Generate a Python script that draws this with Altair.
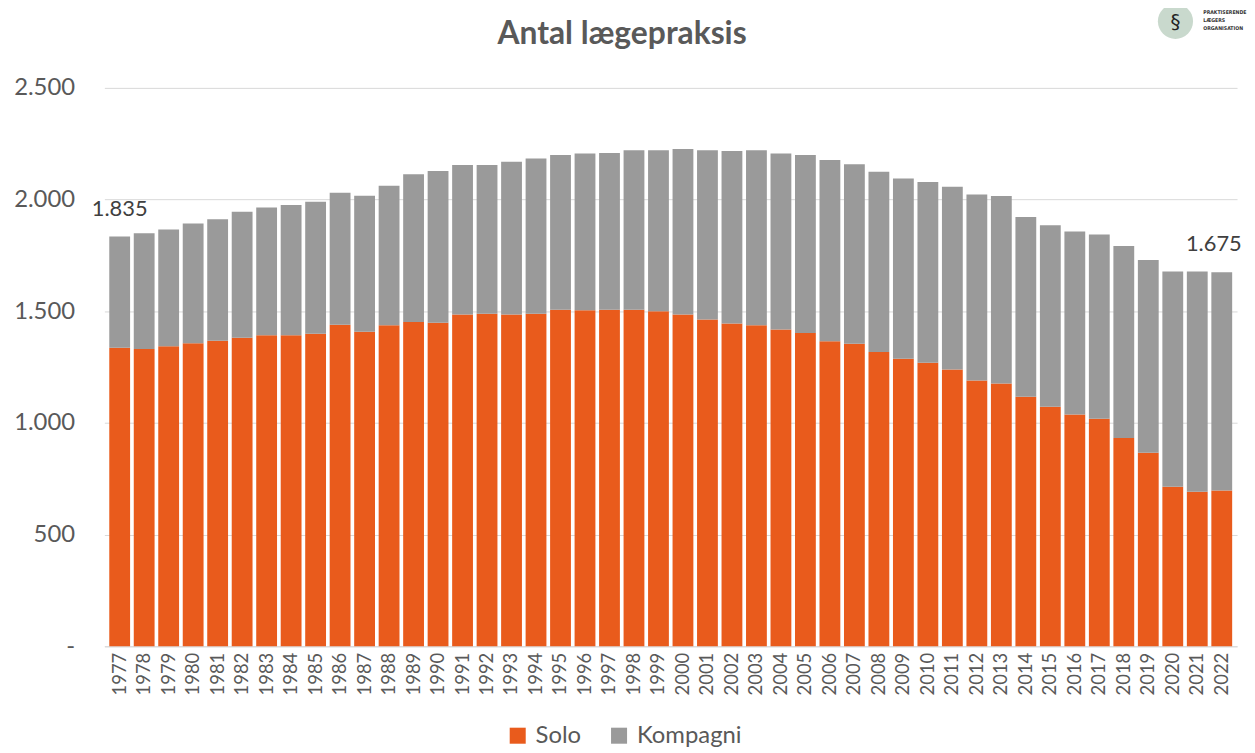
import altair as alt
import pandas as pd

years = [str(y) for y in range(1977, 2023)]
total = [1835, 1849, 1866, 1893, 1912, 1946, 1964, 1976, 1990, 2031,
         2017, 2062, 2113, 2128, 2155, 2155, 2169, 2184, 2199, 2206,
         2209, 2221, 2221, 2226, 2221, 2217, 2221, 2206, 2199, 2177,
         2158, 2125, 2094, 2079, 2057, 2023, 2016, 1922, 1885, 1857,
         1844, 1792, 1729, 1678, 1678, 1675]
solo = [1337, 1331, 1343, 1357, 1368, 1381, 1392, 1392, 1399, 1440,
        1408, 1437, 1452, 1448, 1485, 1489, 1485, 1489, 1507, 1504,
        1507, 1507, 1500, 1485, 1463, 1445, 1437, 1418, 1403, 1366,
        1354, 1318, 1287, 1269, 1239, 1190, 1177, 1117, 1072, 1038,
        1019, 933, 866, 714, 692, 697]
series = ["Solo", "Kompagni"]
colors = ["#E95B1C", "#9A9A9A"]
title_text = "Antal lægepraksis"
logo_lines = ["PRAKTISERENDE", "LÆGERS", "ORGANISATION"]

rows = []
for y, t, s in zip(years, total, solo):
    rows.append({"year": y, "type": "Solo", "value": s, "ord": 0})
    rows.append({"year": y, "type": "Kompagni", "value": t - s, "ord": 1})
df = pd.DataFrame(rows)

lab = pd.DataFrame({"year": years, "total": total})
lab["txt"] = lab["total"].map(lambda v: f"{v:,}".replace(",", "."))
lab_first = lab[lab["year"] == years[0]]
lab_last = lab[lab["year"] == years[-1]]

FONT = "Lato"
GREY = "#595959"

xenc = alt.X("year:N", sort=years,
             scale=alt.Scale(paddingInner=0.15, paddingOuter=0.2),
             axis=alt.Axis(title=None, labelAngle=-90, labelFontSize=18.5,
                           labelColor=GREY, labelFont=FONT, ticks=False,
                           domainColor="#D9D9D9", labelPadding=6))

bars = alt.Chart(df).mark_bar().encode(
    x=xenc,
    y=alt.Y("value:Q", stack="zero",
            scale=alt.Scale(domain=[0, 2500], nice=False),
            axis=alt.Axis(title=None, values=[0, 500, 1000, 1500, 2000, 2500],
                          labelExpr="datum.value == 0 ? '-' : replace(format(datum.value, ','), ',', '.')",
                          labelFontSize=24, labelColor=GREY, labelFont=FONT,
                          ticks=False, domain=False, gridColor="#D9D9D9",
                          labelPadding=30)),
    color=alt.Color("type:N", sort=series,
                    scale=alt.Scale(domain=series, range=colors),
                    legend=alt.Legend(title=None, orient="none", direction="horizontal",
                                      legendX=404, legendY=640,
                                      symbolType="square", symbolSize=260,
                                      symbolStrokeWidth=0,
                                      labelFontSize=24, labelColor=GREY,
                                      labelFont=FONT, columnPadding=26,
                                      labelOffset=6)),
    order=alt.Order("ord:Q"),
)

def label_layer(data, dx):
    return alt.Chart(data).mark_text(fontSize=22, color="#404040", font=FONT,
                                     dy=-28, dx=dx, align="center").encode(
        x=alt.X("year:N", sort=years),
        y=alt.Y("total:Q"),
        text="txt:N",
    )

title = alt.Chart(pd.DataFrame({"t": [title_text]})).mark_text(
    fontSize=32, fontWeight="bold", color=GREY, font=FONT,
    align="center", baseline="middle").encode(
    x=alt.value(521), y=alt.value(-54), text="t:N")

# decorative logo (top right)
logo_circle = alt.Chart(pd.DataFrame({"a": [0]})).mark_circle(
    size=1250, color="#C9D9CD", opacity=1).encode(
    x=alt.value(1078), y=alt.value(-67))
logo_snake = alt.Chart(pd.DataFrame({"a": [0]})).mark_text(
    text="§", fontSize=20, color="#222222", font="DejaVu Sans",
    baseline="middle").encode(
    x=alt.value(1078), y=alt.value(-66))
logo_text = alt.layer(*[
    alt.Chart(pd.DataFrame({"t": [line]})).mark_text(
        fontSize=5.2, fontWeight="bold", color="#333333", align="left",
        font="DejaVu Sans Condensed").encode(
        x=alt.value(1106), y=alt.value(-76 + 8 * i), text="t:N")
    for i, line in enumerate(logo_lines)
])

chart = alt.layer(bars, label_layer(lab_first, 0), label_layer(lab_last, -8),
                  title, logo_circle, logo_snake, logo_text).properties(
    width=1140, height=562,
    autosize=alt.AutoSizeParams(type="none"),
    padding={"left": 97, "top": 78, "right": 10, "bottom": 104},
).configure(background="white").configure_view(stroke=None)

chart.save("out.html", embed_options={"renderer": "svg", "actions": False})
